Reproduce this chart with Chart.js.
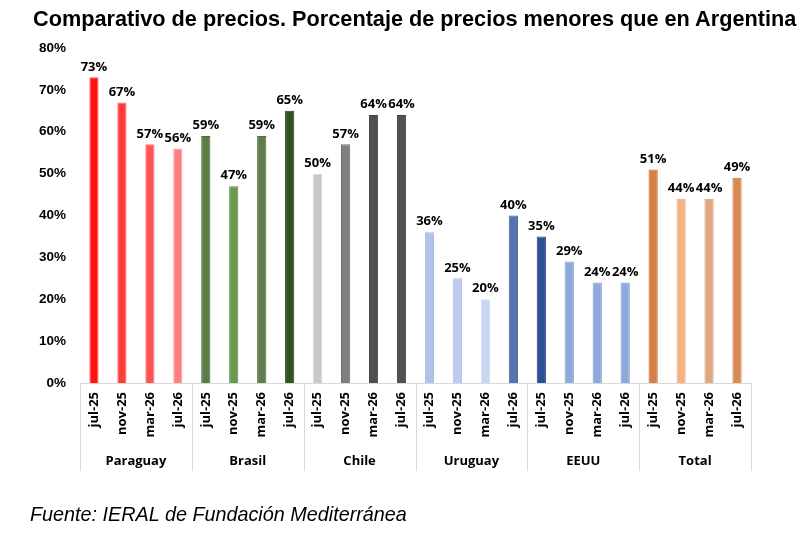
<!DOCTYPE html>
<html>
<head>
<meta charset="utf-8">
<script src="https://cdn.jsdelivr.net/npm/chart.js@4.4.0/dist/chart.umd.min.js"></script>
<style>
  html, body { margin: 0; padding: 0; background: #ffffff; }
  #wrap { position: relative; width: 805px; height: 535px; overflow: hidden; }
  #chart { position: absolute; left: 0; top: 0; }
  #title { position: absolute; left: 33px; top: 8px; line-height: 22px;
           font-family: "Liberation Sans", Arial, sans-serif; font-weight: bold; font-size: 21.7px; color: #000; white-space: nowrap; }
  #source { position: absolute; left: 30px; top: 504px; line-height: 20px; font-family: "Liberation Sans", Arial, sans-serif; font-style: italic;
            font-size: 19.8px; color: #000; white-space: nowrap; }
</style>
</head>
<body>
<div id="wrap">
  <canvas id="chart" width="805" height="535"></canvas>
  <div id="title">Comparativo de precios. Porcentaje de precios menores que en Argentina</div>
  <div id="source">Fuente: IERAL de Fundación Mediterránea</div>
</div>
<script>
// ---- Data ----
const periods = ['jul-25', 'nov-25', 'mar-26', 'jul-26'];
const groups = ['Paraguay', 'Brasil', 'Chile', 'Uruguay', 'EEUU', 'Total'];
const paraguay = [73, 67, 57, 56];
const brasil   = [59, 47, 59, 65];
const chile    = [50, 57, 64, 64];
const uruguay  = [36, 25, 20, 40];
const eeuu     = [35, 29, 24, 24];
const total    = [51, 44, 44, 49];
const yTicks   = [0, 10, 20, 30, 40, 50, 60, 70, 80];

// ---- Styles ----
const fillColors = [
  '#ff1212', '#ff3b3b', '#ff5252', '#ff7f7f',
  '#5b7b47', '#6a984e', '#5f7e4b', '#2f5421',
  '#c9c9c9', '#7f7f7f', '#4f4f4f', '#515151',
  '#b1c3e8', '#bdccee', '#c9d5f1', '#5673ad',
  '#2c5093', '#8eaadd', '#8ea9db', '#8ea9db',
  '#d67f46', '#f4b183', '#dda882', '#d98a51'
];
const borderColors = [
  '#ff5a5a', '#ff6a6a', '#ff7a7a', '#ffa0a0',
  '#4a6a37', '#5a8a3c', '#4e6d3b', '#1f4414',
  '#d6d6d6', '#707070', '#404040', '#404040',
  '#a3b7e2', '#afc1ea', '#d3ddf3', '#3f60a3',
  '#1d4087', '#7d9bd6', '#7d9bd6', '#7d9bd6',
  '#c8692c', '#f2a977', '#d89c72', '#c9733a'
];

const seriesByGroup = [paraguay, brasil, chile, uruguay, eeuu, total];
const labels = [];
const values = [];
seriesByGroup.forEach(arr => arr.forEach((v, i) => { labels.push(periods[i]); values.push(v); }));

const labelFont = '"Open Sans", "Noto Sans", sans-serif';

const overlayPlugin = {
  id: 'overlay',
  afterDraw(chart) {
    const ctx = chart.ctx;
    const area = chart.chartArea;
    const xs = chart.scales.x;
    const n = labels.length;
    const catW = (area.right - area.left) / n;
    ctx.save();
    // separators
    ctx.strokeStyle = '#d9d9d9';
    ctx.lineWidth = 1;
    for (let g = 0; g <= groups.length; g++) {
      const idx = g * periods.length;
      const x = Math.round(xs.getPixelForValue(Math.min(idx, n - 1)) + (idx >= n ? catW / 2 : -catW / 2)) + 0.5;
      ctx.beginPath();
      ctx.moveTo(x, area.bottom);
      ctx.lineTo(x, area.bottom + 88);
      ctx.stroke();
    }
    // group labels
    ctx.fillStyle = '#000';
    ctx.font = 'bold 13px ' + labelFont;
    ctx.textAlign = 'center';
    ctx.textBaseline = 'middle';
    groups.forEach((name, g) => {
      const a = xs.getPixelForValue(g * periods.length);
      const b = xs.getPixelForValue(g * periods.length + periods.length - 1);
      ctx.fillText(name, (a + b) / 2, area.bottom + 78);
    });
    // data labels
    ctx.font = 'bold 13px ' + labelFont;
    ctx.textBaseline = 'bottom';
    const meta = chart.getDatasetMeta(0);
    meta.data.forEach((bar, i) => {
      ctx.fillText(values[i] + '%', bar.x, bar.y - 4);
    });
    ctx.restore();
  }
};

new Chart(document.getElementById('chart'), {
  type: 'bar',
  data: {
    labels: labels,
    datasets: [{
      data: values,
      backgroundColor: fillColors,
      borderColor: borderColors,
      borderWidth: 1,
      barPercentage: 0.33,
      categoryPercentage: 1.0
    }]
  },
  options: {
    responsive: false,
    animation: false,
    devicePixelRatio: 1,
    layout: { padding: { top: 48, right: 54, left: 0, bottom: 0 } },
    plugins: {
      legend: { display: false },
      tooltip: { enabled: false },
      title: { display: false }
    },
    scales: {
      x: {
        offset: true,
        grid: { display: false, drawTicks: false },
        border: { display: true, color: '#d9d9d9', width: 1 },
        ticks: {
          autoSkip: false,
          maxRotation: 90,
          minRotation: 90,
          padding: 9,
          color: '#000',
          font: { family: labelFont, weight: 'bold', size: 13 }
        },
        afterFit(scale) { scale.height = 152; }
      },
      y: {
        min: yTicks[0],
        max: yTicks[yTicks.length - 1],
        afterBuildTicks(scale) { scale.ticks = yTicks.map(v => ({ value: v })); },
        grid: { display: false, drawTicks: false },
        border: { display: false },
        ticks: {
          padding: 14,
          color: '#000',
          font: { family: '"Liberation Sans", Arial, sans-serif', weight: 'bold', size: 13.5 },
          callback: v => v + '%'
        },
        afterFit(scale) { scale.width = 80; }
      }
    }
  },
  plugins: [overlayPlugin]
});
</script>
</body>
</html>
